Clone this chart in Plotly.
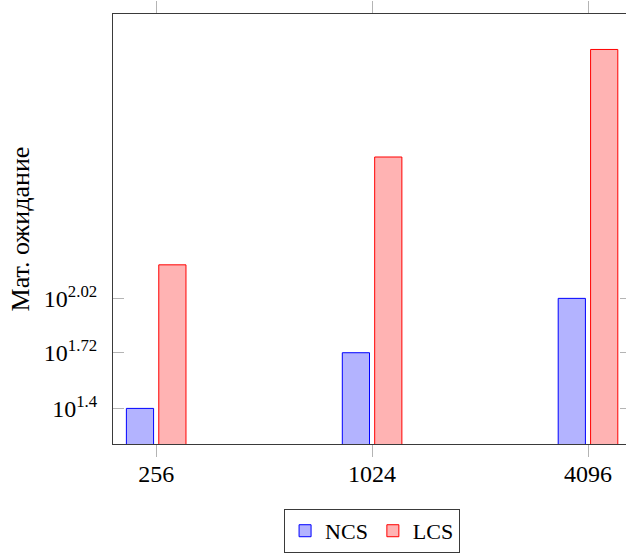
import plotly.graph_objects as go

categories = ["256", "1024", "4096"]
ncs = [25.1, 51.7, 104.7]
lcs = [161.8, 656.0, 2649.0]
ytick_vals = [25.1, 51.7, 104.7]
ytick_text = ["10<sup>1.4</sup>", "10<sup>1.72</sup>", "10<sup>2.02</sup>"]

FONT = "Liberation Serif"
TICKC = "#b4b4b4"
AXC = "#3a3a3a"

fig = go.Figure()
fig.add_trace(go.Bar(x=categories, y=ncs, name="NCS",
                     marker=dict(color="#b3b3ff", line=dict(color="#0000ff", width=1))))
fig.add_trace(go.Bar(x=categories, y=lcs, name="LCS",
                     marker=dict(color="#ffb3b3", line=dict(color="#ff0000", width=1))))
# invisible helper trace so the right-hand tick axis is drawn
fig.add_trace(go.Scatter(x=categories[:1], y=ncs[:1], yaxis="y2", mode="markers",
                         marker=dict(opacity=0), showlegend=False, hoverinfo="skip"))

fig.update_layout(
    width=626, height=553,
    margin=dict(l=113, r=0, t=14, b=109),
    paper_bgcolor="white", plot_bgcolor="white",
    barmode="group", bargap=0.70, bargroupgap=0.16,
    font=dict(family=FONT, size=24, color="black"),
    xaxis=dict(
        type="category", range=[-0.2, 2.176],
        showline=True, linecolor=AXC, linewidth=1, mirror="ticks",
        ticks="outside", ticklen=12, tickcolor=TICKC, tickwidth=1,
        ticklabelstandoff=-4,
        showgrid=False, zeroline=False,
        tickfont=dict(family=FONT, size=24),
    ),
    yaxis=dict(
        type="log", range=[1.199, 3.623],
        tickvals=ytick_vals, ticktext=ytick_text,
        showline=True, linecolor=AXC, linewidth=1,
        ticks="inside", ticklen=11, tickcolor=TICKC, tickwidth=1,
        ticklabelstandoff=10,
        showgrid=False, zeroline=False,
        tickfont=dict(family=FONT, size=24),
        title=dict(text="Мат. ожидание", font=dict(family=FONT, size=26), standoff=6),
    ),
    yaxis2=dict(
        type="log", range=[1.199, 3.623], overlaying="y", side="right",
        tickvals=ytick_vals, showticklabels=False,
        ticks="inside", ticklen=6, tickcolor=TICKC, tickwidth=1,
        showline=False, showgrid=False, zeroline=False,
    ),
    legend=dict(
        orientation="h", x=0.505, xanchor="center", y=-0.151, yanchor="top",
        bordercolor=AXC, borderwidth=1, bgcolor="white",
        font=dict(family=FONT, size=22), itemwidth=30,
    ),
    showlegend=True,
)

fig.write_html("out.html")
